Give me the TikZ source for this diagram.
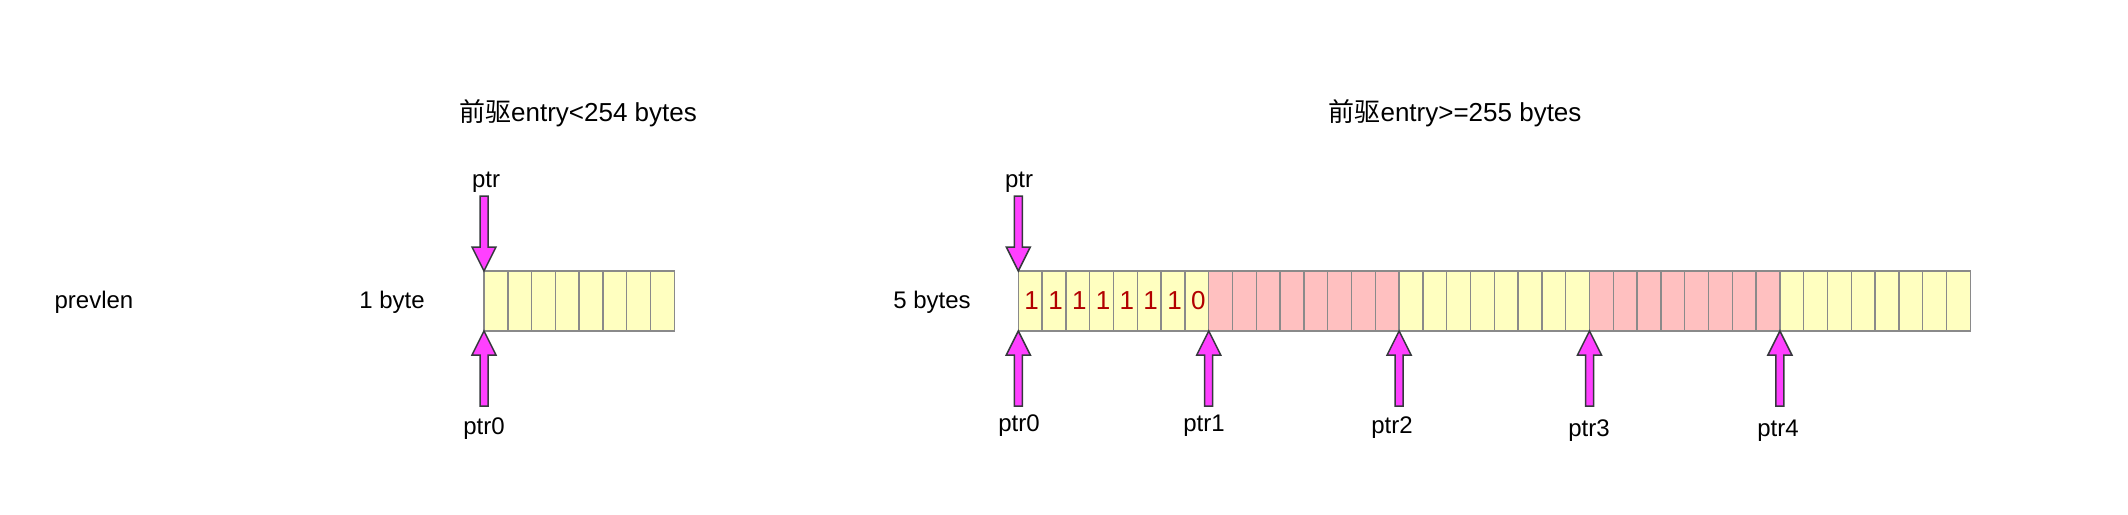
\documentclass[tikz,border=0pt]{standalone}
\usepackage{fontspec}
\setmainfont{Liberation Sans}
\newfontfamily\cjk{Noto Sans CJK SC}
\definecolor{cYellow}{HTML}{FFFFC0}
\definecolor{cPink}{HTML}{FFC0C0}
\definecolor{cGray}{HTML}{8A8A8A}
\definecolor{bitRed}{HTML}{B20000}
\definecolor{magFill}{HTML}{FF40FF}
\definecolor{arrDark}{HTML}{36393D}
\begin{document}
\begin{tikzpicture}[x=0.5pt,y=-0.5pt,
  lbl/.style={font=\fontsize{12}{14}\selectfont, inner sep=0pt},
  ttl/.style={font=\fontsize{13}{15}\selectfont, inner sep=0pt},
  cellbase/.style={draw=cGray, line width=0.75pt, minimum width=11.9pt, minimum height=30pt, inner sep=0pt, outer sep=0pt},
  celly/.style={cellbase, fill=cYellow},
  cellp/.style={cellbase, fill=cPink},
  bitlbl/.style={font=\fontsize{13}{15}\selectfont, text=bitRed, inner sep=0pt},
  blockarrow/.style={fill=magFill, draw=arrDark, line width=0.75pt, line join=miter},
  downarr/.pic={\draw[blockarrow] (-4,-75) -- (-4,-24) -- (-12,-24) -- (0,0) -- (12,-24) -- (4,-24) -- (4,-75) -- cycle;},
  uparr/.pic={\draw[blockarrow] (-4,75) -- (-4,24) -- (-12,24) -- (0,0) -- (12,24) -- (4,24) -- (4,75) -- cycle;}
]
\useasboundingbox (0,0) rectangle (2128,514);

% titles and side labels
\node[ttl] (t1) at (578,113) {{\cjk 前驱}entry<254 bytes};
\node[ttl] (t2) at (1455,113) {{\cjk 前驱}entry>=255 bytes};
\node[lbl] (prevlen) at (94,302) {prevlen};
\node[lbl] (onebyte) at (392,302) {1 byte};
\node[lbl] (fivebytes) at (932,302) {5 bytes};

% left array: 8 cells
\foreach \i in {0,...,7}
  \node[celly] (L\i) at ({484+23.79*(\i+0.5)},301) {};

% right array: 40 cells
\foreach \g/\st in {0/celly,1/cellp,2/celly,3/cellp,4/celly}
  \foreach \j in {0,...,7} {
    \pgfmathtruncatemacro\k{8*\g+\j}
    \node[\st] (R\k) at ({1018.3+23.8*(\k+0.5)},301) {};
  }

% bits
\foreach \i/\b in {0/1,1/1,2/1,3/1,4/1,5/1,6/1,7/0}
  \node[bitlbl] (bit\i) at ([xshift=0.75pt]R\i.center) {\b};

% left arrows
\pic at (L0.north west) {downarr};
\pic at (L0.south west) {uparr};
\node[lbl] (lptr) at (486,182) {ptr};
\node[lbl] (lptr0) at (484,429) {ptr0};

% right arrows
\pic at (R0.north west) {downarr};
\node[lbl] (rptr) at (1019,182) {ptr};
\pic at (R0.south west) {uparr};
\pic at (R8.south west) {uparr};
\pic at (R16.south west) {uparr};
\pic at (R24.south west) {uparr};
\pic at (R32.south west) {uparr};
\node[lbl] (rptr0) at (1019,426) {ptr0};
\node[lbl] (rptr1) at (1204,426) {ptr1};
\node[lbl] (rptr2) at (1392,428) {ptr2};
\node[lbl] (rptr3) at (1589,431) {ptr3};
\node[lbl] (rptr4) at (1778,431) {ptr4};
\end{tikzpicture}
\end{document}
